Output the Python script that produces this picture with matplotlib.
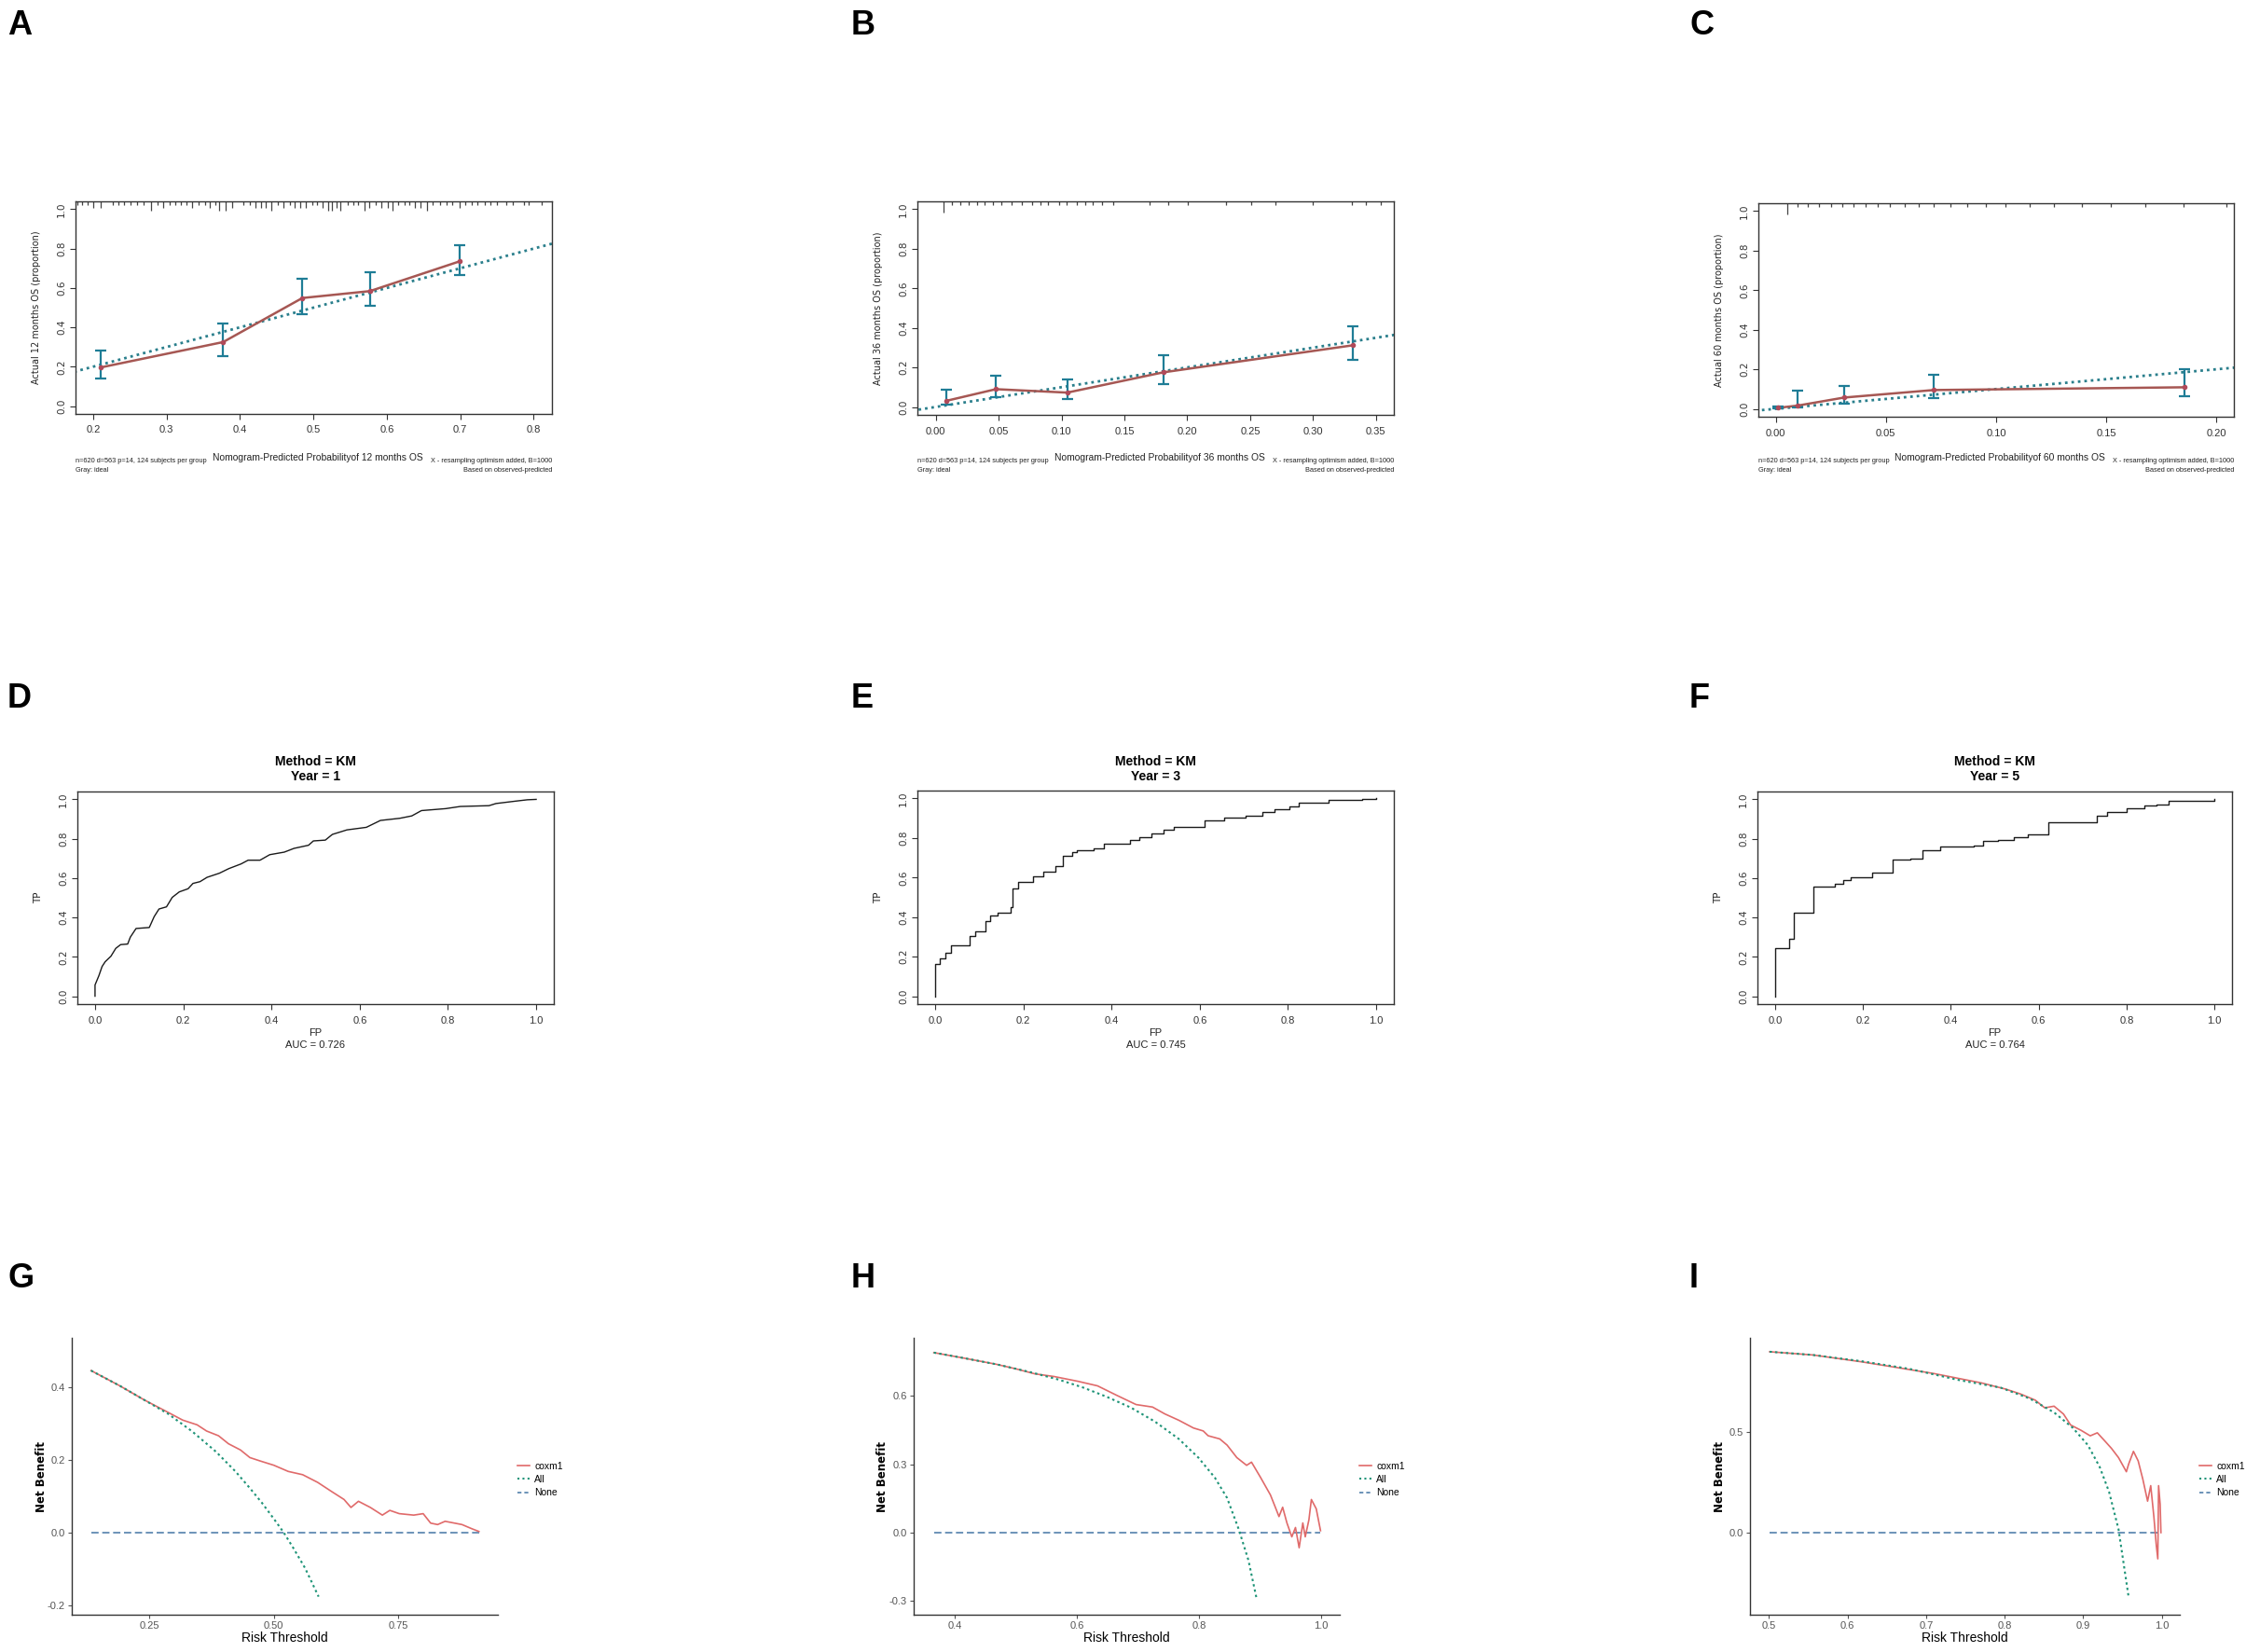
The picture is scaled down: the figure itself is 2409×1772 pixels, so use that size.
import matplotlib
matplotlib.use('Agg')
import matplotlib.pyplot as plt
from matplotlib.lines import Line2D

W, H = 2409, 1772
plt.rcParams['font.family'] = ['Liberation Sans', 'DejaVu Sans']
NARROW = ['Liberation Sans Narrow', 'Liberation Sans', 'DejaVu Sans']

# ---------------- calibration curves (A, B, C) ----------------
cal_months = [12, 36, 60]
cal_xticks = [[0.2, 0.3, 0.4, 0.5, 0.6, 0.7, 0.8],
              [0.00, 0.05, 0.10, 0.15, 0.20, 0.25, 0.30, 0.35],
              [0.00, 0.05, 0.10, 0.15, 0.20]]
cal_xlabels = [['0.2', '0.3', '0.4', '0.5', '0.6', '0.7', '0.8'],
               ['0.00', '0.05', '0.10', '0.15', '0.20', '0.25', '0.30', '0.35'],
               ['0.00', '0.05', '0.10', '0.15', '0.20']]
cal_xlim = [(0.176, 0.825), (-0.0145, 0.3642), (-0.0079, 0.208)]

cal_a_x = [0.210, 0.377, 0.485, 0.577, 0.699]
cal_a_y = [0.196, 0.325, 0.549, 0.584, 0.735]
cal_a_lo = [0.138, 0.254, 0.468, 0.509, 0.667]
cal_a_hi = [0.281, 0.421, 0.645, 0.681, 0.819]

cal_b_x = [0.0088, 0.0479, 0.1046, 0.1808, 0.3317]
cal_b_y = [0.0315, 0.090, 0.0726, 0.175, 0.312]
cal_b_lo = [0.011, 0.049, 0.038, 0.117, 0.238]
cal_b_hi = [0.085, 0.159, 0.139, 0.263, 0.410]

cal_c_x = [0.001, 0.0098, 0.031, 0.0717, 0.1856]
cal_c_y = [0.005, 0.016, 0.057, 0.095, 0.109]
cal_c_lo = [0.001, 0.008, 0.024, 0.052, 0.065]
cal_c_hi = [0.010, 0.090, 0.115, 0.174, 0.199]

ideal = [-0.1, 1.1]

# distribution of predicted values shown along the top (position, length)
rug_a_x = [0.178, 0.185, 0.192, 0.200, 0.210, 0.227, 0.234, 0.242, 0.251, 0.260,
           0.269, 0.279, 0.288, 0.296, 0.304, 0.312, 0.320, 0.327, 0.335, 0.344,
           0.353, 0.359, 0.366, 0.372, 0.381, 0.390, 0.405, 0.414, 0.421, 0.429,
           0.435, 0.443, 0.451, 0.459, 0.468, 0.474, 0.482, 0.490, 0.498, 0.505,
           0.513, 0.520, 0.525, 0.532, 0.537, 0.547, 0.555, 0.561, 0.570, 0.576,
           0.585, 0.593, 0.601, 0.608, 0.615, 0.624, 0.631, 0.638, 0.646, 0.655,
           0.663, 0.672, 0.681, 0.689, 0.699, 0.707, 0.716, 0.724, 0.733, 0.741,
           0.750, 0.763, 0.772, 0.787, 0.793, 0.811]
rug_a_h = [0.02, 0.02, 0.02, 0.032, 0.032, 0.02, 0.02, 0.02, 0.02, 0.02,
           0.02, 0.048, 0.02, 0.032, 0.02, 0.02, 0.02, 0.02, 0.032, 0.02,
           0.02, 0.032, 0.02, 0.048, 0.048, 0.032, 0.02, 0.02, 0.032, 0.032,
           0.032, 0.048, 0.02, 0.032, 0.02, 0.032, 0.032, 0.032, 0.02, 0.02,
           0.032, 0.048, 0.048, 0.032, 0.048, 0.02, 0.02, 0.02, 0.048, 0.032,
           0.02, 0.032, 0.032, 0.048, 0.02, 0.02, 0.02, 0.032, 0.032, 0.048,
           0.02, 0.02, 0.02, 0.02, 0.032, 0.02, 0.02, 0.02, 0.02, 0.02,
           0.02, 0.02, 0.02, 0.02, 0.02, 0.02]
rug_b_x = [0.006, 0.013, 0.0195, 0.026, 0.0326, 0.039, 0.0452, 0.0525, 0.060, 0.0686,
           0.0766, 0.0835, 0.0896, 0.098, 0.104, 0.112, 0.119, 0.125, 0.1325, 0.141,
           0.170, 0.185, 0.2007, 0.231, 0.2505, 0.270, 0.300, 0.331, 0.342, 0.354]
rug_b_h = [0.057] + [0.02] * 29
rug_c_x = [0.0052, 0.0098, 0.0146, 0.0195, 0.0251, 0.030, 0.0354, 0.0409, 0.0463, 0.0518,
           0.0584, 0.0649, 0.0715, 0.0791, 0.0868, 0.0955, 0.1043, 0.1152, 0.1261, 0.1392,
           0.1523, 0.1677, 0.1851, 0.2048]
rug_c_h = [0.055] + [0.018] * 23

# ---------------- time-dependent ROC (D, E, F) ----------------
roc_years = [1, 3, 5]
roc_auc = ['0.726', '0.745', '0.764']
roc_d_fp = [0.0, 0.0, 0.0087, 0.016, 0.023, 0.036, 0.047, 0.058, 0.074, 0.080,
            0.093, 0.123, 0.134, 0.145, 0.162, 0.175, 0.191, 0.211, 0.222, 0.238,
            0.254, 0.282, 0.303, 0.331, 0.347, 0.374, 0.396, 0.429, 0.451, 0.484,
            0.495, 0.522, 0.538, 0.571, 0.615, 0.647, 0.691, 0.718, 0.740, 0.795,
            0.828, 0.893, 0.909, 0.953, 0.980, 1.0]
roc_d_tp = [0.0, 0.057, 0.104, 0.151, 0.175, 0.203, 0.243, 0.262, 0.265, 0.300,
            0.344, 0.349, 0.404, 0.443, 0.454, 0.502, 0.530, 0.546, 0.573, 0.582,
            0.604, 0.625, 0.648, 0.672, 0.691, 0.691, 0.719, 0.732, 0.751, 0.767,
            0.789, 0.793, 0.822, 0.845, 0.858, 0.893, 0.904, 0.916, 0.943, 0.953,
            0.964, 0.968, 0.979, 0.991, 0.998, 1.0]
roc_e_fp = [0.0, 0.0, 0.0098, 0.024, 0.037, 0.079, 0.092, 0.114, 0.125, 0.142,
            0.171, 0.176, 0.188, 0.223, 0.245, 0.273, 0.289, 0.311, 0.322, 0.360,
            0.382, 0.442, 0.464, 0.491, 0.519, 0.541, 0.612, 0.656, 0.705, 0.743,
            0.770, 0.803, 0.825, 0.891, 0.968, 1.0]
roc_e_tp = [0.0, 0.164, 0.193, 0.220, 0.257, 0.306, 0.330, 0.378, 0.409, 0.420,
            0.449, 0.543, 0.580, 0.607, 0.630, 0.659, 0.709, 0.730, 0.736, 0.749,
            0.773, 0.790, 0.804, 0.823, 0.844, 0.855, 0.891, 0.904, 0.915, 0.930,
            0.946, 0.962, 0.978, 0.994, 0.997, 1.0]
roc_f_fp = [0.0, 0.0, 0.033, 0.043, 0.088, 0.136, 0.156, 0.172, 0.221, 0.268,
            0.309, 0.336, 0.375, 0.452, 0.474, 0.507, 0.543, 0.576, 0.622, 0.732,
            0.756, 0.800, 0.840, 0.868, 0.896, 1.0]
roc_f_tp = [0.0, 0.242, 0.290, 0.424, 0.555, 0.570, 0.590, 0.606, 0.630, 0.693,
            0.701, 0.740, 0.761, 0.767, 0.788, 0.793, 0.809, 0.824, 0.883, 0.915,
            0.938, 0.957, 0.967, 0.973, 0.994, 1.0]

# ---------------- decision curves (G, H, I) ----------------
dca_g_all_t = [0.133, 0.191, 0.239, 0.288, 0.336, 0.384, 0.423, 0.452, 0.476, 0.500,
               0.520, 0.539, 0.563, 0.590]
dca_g_all_nb = [0.445, 0.403, 0.365, 0.326, 0.278, 0.222, 0.168, 0.122, 0.082, 0.038,
                0.0, -0.042, -0.098, -0.176]
dca_g_cox_t = [0.133, 0.191, 0.239, 0.288, 0.317, 0.346, 0.365, 0.389, 0.409, 0.433,
               0.452, 0.472, 0.500, 0.529, 0.558, 0.588, 0.617, 0.641, 0.655, 0.670,
               0.694, 0.718, 0.733, 0.752, 0.781, 0.800, 0.815, 0.829, 0.844, 0.863,
               0.878, 0.897, 0.912]
dca_g_cox_nb = [0.445, 0.403, 0.365, 0.330, 0.309, 0.296, 0.279, 0.266, 0.244, 0.227,
                0.206, 0.197, 0.185, 0.168, 0.159, 0.138, 0.112, 0.091, 0.069, 0.086,
                0.069, 0.048, 0.061, 0.052, 0.048, 0.052, 0.026, 0.022, 0.031, 0.026,
                0.022, 0.011, 0.003]
dca_g_none_t = [0.133, 0.912]

dca_h_all_t = [0.366, 0.413, 0.468, 0.523, 0.571, 0.610, 0.649, 0.689, 0.728, 0.767,
               0.799, 0.826, 0.846, 0.865, 0.881, 0.894]
dca_h_all_nb = [0.790, 0.767, 0.739, 0.705, 0.671, 0.637, 0.596, 0.548, 0.487, 0.411,
                0.329, 0.241, 0.152, 0.015, -0.122, -0.286]
dca_h_cox_t = [0.366, 0.413, 0.468, 0.500, 0.531, 0.563, 0.602, 0.634, 0.665, 0.697,
               0.724, 0.744, 0.767, 0.791, 0.807, 0.815, 0.834, 0.846, 0.862, 0.878,
               0.886, 0.901, 0.917, 0.925, 0.931, 0.937, 0.944, 0.952, 0.958, 0.964,
               0.970, 0.974, 0.980, 0.984, 0.992, 0.999]
dca_h_cox_nb = [0.790, 0.767, 0.739, 0.719, 0.697, 0.685, 0.664, 0.644, 0.603, 0.562,
                0.551, 0.521, 0.493, 0.459, 0.446, 0.425, 0.411, 0.384, 0.329, 0.295,
                0.309, 0.241, 0.165, 0.111, 0.070, 0.111, 0.042, -0.019, 0.022, -0.067,
                0.042, -0.019, 0.056, 0.145, 0.104, 0.008]
dca_h_none_t = [0.366, 0.999]

dca_i_all_t = [0.501, 0.556, 0.618, 0.679, 0.740, 0.795, 0.832, 0.863, 0.887, 0.906,
               0.921, 0.933, 0.945, 0.958]
dca_i_all_nb = [0.897, 0.881, 0.850, 0.812, 0.758, 0.719, 0.665, 0.596, 0.519, 0.434,
                0.326, 0.202, 0.017, -0.323]
dca_i_cox_t = [0.501, 0.556, 0.618, 0.710, 0.771, 0.802, 0.820, 0.839, 0.851, 0.863,
               0.875, 0.884, 0.897, 0.909, 0.918, 0.927, 0.936, 0.945, 0.955, 0.958,
               0.964, 0.970, 0.976, 0.982, 0.986, 0.990, 0.993, 0.995, 0.996, 0.998,
               0.999]
dca_i_cox_nb = [0.897, 0.881, 0.847, 0.789, 0.742, 0.711, 0.688, 0.657, 0.619, 0.627,
                0.588, 0.534, 0.508, 0.480, 0.495, 0.457, 0.418, 0.372, 0.302, 0.341,
                0.403, 0.356, 0.264, 0.156, 0.233, 0.079, -0.060, -0.130, 0.233, 0.140,
                0.0]
dca_i_none_t = [0.501, 0.999]

dca_xticks = [[0.25, 0.50, 0.75], [0.4, 0.6, 0.8, 1.0], [0.5, 0.6, 0.7, 0.8, 0.9, 1.0]]
dca_xlabels = [['0.25', '0.50', '0.75'], ['0.4', '0.6', '0.8', '1.0'],
               ['0.5', '0.6', '0.7', '0.8', '0.9', '1.0']]
dca_yticks = [[-0.2, 0.0, 0.2, 0.4], [-0.3, 0.0, 0.3, 0.6], [0.0, 0.5]]
dca_ylabels = [['-0.2', '0.0', '0.2', '0.4'], ['-0.3', '0.0', '0.3', '0.6'], ['0.0', '0.5']]
dca_xlim = [(0.0943, 0.950), (0.333, 1.0305), (0.476, 1.023)]
dca_ylim = [(-0.2256, 0.535), (-0.361, 0.855), (-0.407, 0.966)]

panel_letters = ['A', 'B', 'C', 'D', 'E', 'F', 'G', 'H', 'I']

# colours
c_cal = '#a65753'
c_err = '#1f7d96'
c_ideal = '#2a7f8c'
c_cox = '#e06a6a'
c_all = '#1f9478'
c_none = '#6b93b8'


def px_ax(fig, x0, y0, x1, y1):
    return fig.add_axes([x0 / W, 1 - y1 / H, (x1 - x0) / W, (y1 - y0) / H])


def ftxt(fig, x, y, s, **kw):
    fig.text(x / W, 1 - y / H, s, **kw)


def r_style(ax):
    for sp in ax.spines.values():
        sp.set_linewidth(1.0)
        sp.set_color('#333333')
    ax.tick_params(direction='out', length=4, width=0.8, colors='#333333',
                   labelsize=8, pad=3)
    ax.tick_params(axis='x', pad=5)
    for lab in ax.get_yticklabels():
        lab.set_rotation(90)
        lab.set_va('center')
        lab.set_ha('right')
        lab.set_fontfamily('DejaVu Sans')
        lab.set_fontsize(7.5)


fig = plt.figure(figsize=(W / 100, H / 100), dpi=100)
fig.patch.set_facecolor('white')

# panel letters
letter_pos = [(8, 10), (913, 10), (1812, 10), (8, 732), (913, 732), (1812, 732),
              (8, 1354), (913, 1354), (1812, 1354)]
for letter, (lx, ly) in zip(panel_letters, letter_pos):
    ftxt(fig, lx, ly, letter, fontsize=26, fontweight='bold', va='top', ha='left')

# ---- calibration ----
cal_boxes = [(81, 216, 592, 444), (984, 216, 1495, 445), (1886, 218, 2396, 447)]
cal_data = [(cal_a_x, cal_a_y, cal_a_lo, cal_a_hi, rug_a_x, rug_a_h),
            (cal_b_x, cal_b_y, cal_b_lo, cal_b_hi, rug_b_x, rug_b_h),
            (cal_c_x, cal_c_y, cal_c_lo, cal_c_hi, rug_c_x, rug_c_h)]
for i, (box, d) in enumerate(zip(cal_boxes, cal_data)):
    xs, ys, lo, hi, rx, rh = d
    ax = px_ax(fig, *box)
    ax.set_xlim(cal_xlim[i])
    ax.set_ylim(-0.04, 1.04)
    ax.plot(ideal, ideal, color=c_ideal, lw=2.0, ls=(0, (1, 1.5)), zorder=2)
    ax.plot(xs, ys, color=c_cal, lw=1.8, zorder=3)
    yerr = [[y - l for y, l in zip(ys, lo)], [h - y for y, h in zip(ys, hi)]]
    ax.errorbar(xs, ys, yerr=yerr, fmt='none', ecolor=c_err, elinewidth=1.6,
                capsize=4, capthick=1.6, zorder=4)
    ax.plot(xs, ys, 'o', color='#b04a5a', ms=3, zorder=5)
    ax.vlines(rx, [1.04 - h for h in rh], 1.04, color='#444444', lw=0.9)
    ax.set_xticks(cal_xticks[i])
    ax.set_xticklabels(cal_xlabels[i], fontfamily=NARROW)
    ax.set_yticks([0.0, 0.2, 0.4, 0.6, 0.8, 1.0])
    ax.set_yticklabels(['0.0', '0.2', '0.4', '0.6', '0.8', '1.0'])
    r_style(ax)
    x0, y0, x1, y1 = box
    xc = (x0 + x1) / 2
    ftxt(fig, x0 - 42, (y0 + y1) / 2, 'Actual %d months OS (proportion)' % cal_months[i],
         rotation=90, fontsize=7, va='center', ha='center', color='#222222',
         fontfamily='DejaVu Sans')
    ftxt(fig, xc + 4, 491, 'Nomogram-Predicted Probabilityof %d months OS' % cal_months[i],
         fontsize=7.4, va='center', ha='center', fontfamily=NARROW, color='#222222')
    ftxt(fig, x0, 494, 'n=620 d=563 p=14, 124 subjects per group', fontsize=5.3,
         va='center', ha='left', fontfamily=NARROW, color='#222222')
    ftxt(fig, x0, 504, 'Gray: ideal', fontsize=5.3, va='center', ha='left',
         fontfamily=NARROW, color='#222222')
    ftxt(fig, x1, 494, 'X - resampling optimism added, B=1000', fontsize=5.3,
         va='center', ha='right', fontfamily=NARROW, color='#222222')
    ftxt(fig, x1, 504, 'Based on observed-predicted', fontsize=5.3, va='center',
         ha='right', fontfamily=NARROW, color='#222222')

# ---- ROC ----
roc_boxes = [(83, 849, 594, 1077), (984, 848, 1495, 1077), (1885, 849, 2394, 1077)]
roc_data = [(roc_d_fp, roc_d_tp, 'default'), (roc_e_fp, roc_e_tp, 'steps-post'),
            (roc_f_fp, roc_f_tp, 'steps-post')]
for i, (box, d) in enumerate(zip(roc_boxes, roc_data)):
    fp, tp, ds = d
    ax = px_ax(fig, *box)
    ax.set_xlim(-0.04, 1.04)
    ax.set_ylim(-0.04, 1.04)
    ax.plot(fp, tp, color='#1a1a1a', lw=1.0, drawstyle=ds)
    ticks = [0.0, 0.2, 0.4, 0.6, 0.8, 1.0]
    tl = ['0.0', '0.2', '0.4', '0.6', '0.8', '1.0']
    ax.set_xticks(ticks)
    ax.set_xticklabels(tl, fontfamily=NARROW)
    ax.set_yticks(ticks)
    ax.set_yticklabels(tl)
    r_style(ax)
    x0, y0, x1, y1 = box
    xc = (x0 + x1) / 2
    ftxt(fig, xc, 817, 'Method = KM', fontsize=10, fontweight='bold', va='center',
         ha='center', fontfamily=NARROW)
    ftxt(fig, xc, 833, 'Year = %d' % roc_years[i], fontsize=10, fontweight='bold',
         va='center', ha='center', fontfamily=NARROW)
    ftxt(fig, xc, 1108, 'FP', fontsize=8, va='center', ha='center',
         fontfamily=NARROW, color='#222222')
    ftxt(fig, xc, 1121, 'AUC = ' + roc_auc[i], fontsize=8, va='center', ha='center',
         fontfamily=NARROW, color='#222222')
    ftxt(fig, x0 - 42, (y0 + y1) / 2, 'TP', rotation=90, fontsize=7.5, va='center',
         ha='center', fontfamily='DejaVu Sans', color='#222222')

# ---- decision curves ----
dca_boxes = [(77, 1435, 534, 1732), (980, 1435, 1437, 1732), (1877, 1435, 2338, 1732)]
dca_data = [(dca_g_cox_t, dca_g_cox_nb, dca_g_all_t, dca_g_all_nb, dca_g_none_t),
            (dca_h_cox_t, dca_h_cox_nb, dca_h_all_t, dca_h_all_nb, dca_h_none_t),
            (dca_i_cox_t, dca_i_cox_nb, dca_i_all_t, dca_i_all_nb, dca_i_none_t)]
for i, (box, d) in enumerate(zip(dca_boxes, dca_data)):
    ct, cnb, at, anb, nt = d
    ax = px_ax(fig, *box)
    ax.set_xlim(dca_xlim[i])
    ax.set_ylim(dca_ylim[i])
    ax.plot(nt, [0, 0], color=c_none, lw=1.4, ls=(0, (4, 2)), zorder=2)
    ax.plot(ct, cnb, color=c_cox, lw=1.2, zorder=3)
    ax.plot(at, anb, color=c_all, lw=1.5, ls=(0, (1.2, 1.6)), zorder=4)
    ax.spines['top'].set_visible(False)
    ax.spines['right'].set_visible(False)
    for sp in ('left', 'bottom'):
        ax.spines[sp].set_linewidth(1.0)
        ax.spines[sp].set_color('#333333')
    ax.set_xticks(dca_xticks[i])
    ax.set_xticklabels(dca_xlabels[i], fontfamily=NARROW)
    ax.set_yticks(dca_yticks[i])
    ax.set_yticklabels(dca_ylabels[i], fontfamily=NARROW)
    ax.tick_params(direction='out', length=3, width=0.8, color='#555555',
                   labelcolor='#555555', labelsize=8, pad=2)
    x0, y0, x1, y1 = box
    ftxt(fig, x0 - 33, (y0 + y1) / 2, 'Net Benefit', rotation=90, fontsize=8.5,
         fontweight='bold', va='center', ha='center', fontfamily='DejaVu Sans')
    ftxt(fig, (x0 + x1) / 2, 1757, 'Risk Threshold', fontsize=10, va='center',
         ha='center', fontfamily=NARROW)
    handles = [Line2D([], [], color=c_cox, lw=1.2),
               Line2D([], [], color=c_all, lw=1.5, ls=(0, (1, 1.6))),
               Line2D([], [], color=c_none, lw=1.4, ls=(0, (2.2, 1.6)))]
    ax.legend(handles, ['coxm1', 'All', 'None'], loc='center left',
              bbox_to_anchor=((x1 + 21) / W, 1 - 1587 / H),
              bbox_transform=fig.transFigure, frameon=False,
              prop={'family': NARROW, 'size': 7.5}, handlelength=1.2,
              handletextpad=0.55, labelspacing=0.4, borderpad=0, borderaxespad=0)

fig.savefig('out.png', dpi=100, facecolor='white')
